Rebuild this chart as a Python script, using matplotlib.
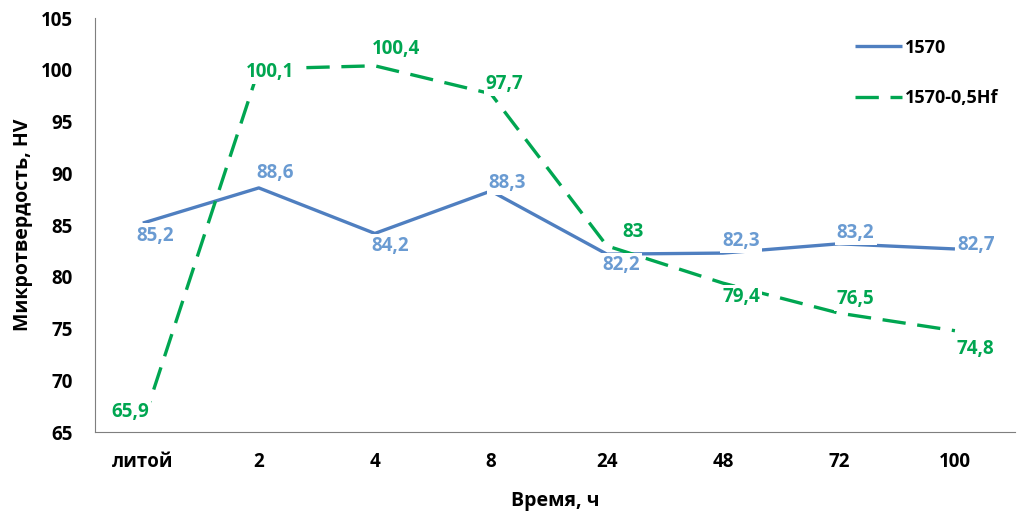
import matplotlib.pyplot as plt

plt.rcParams["font.family"] = ["Open Sans", "DejaVu Sans"]
plt.rcParams["font.weight"] = "bold"

categories = ["литой", "2", "4", "8", "24", "48", "72", "100"]
hv_1570 = [85.2, 88.6, 84.2, 88.3, 82.2, 82.3, 83.2, 82.7]
hv_1570_hf = [65.9, 100.1, 100.4, 97.7, 83.0, 79.4, 76.5, 74.8]
labels_1570 = ["85,2", "88,6", "84,2", "88,3", "82,2", "82,3", "83,2", "82,7"]
labels_1570_hf = ["65,9", "100,1", "100,4", "97,7", "83", "79,4", "76,5", "74,8"]
yticks = [65, 70, 75, 80, 85, 90, 95, 100, 105]

# label offsets in points (dx, dy)
off_blue = [(9, -9), (12, 11), (11, -9), (12, 6), (10, -8), (13, 9), (12, 8), (15, 3)]
off_green = [(-9, 8), (8, -2), (15, 12), (10, 7), (19, 10), (13, -10), (12, 10), (15, -13)]

blue_line = "#4f7fc0"
blue_text = "#6a9bd2"
green = "#00a651"

fig, ax = plt.subplots(figsize=(10.19, 5.2), dpi=100)
fig.subplots_adjust(left=0.093, right=0.996, bottom=0.169, top=0.965)

x = list(range(len(categories)))
ax.plot(x, hv_1570, color=blue_line, linewidth=2.4, label="1570", solid_capstyle="butt")
ax.plot(x, hv_1570_hf, color=green, linewidth=2.4, dashes=(7, 3.5), label="1570-0,5Hf")

bbox = dict(boxstyle="square,pad=0.12", facecolor="white", edgecolor="none")
for xi, yi, txt, off in zip(x, hv_1570, labels_1570, off_blue):
    ax.annotate(txt, (xi, yi), xytext=off, textcoords="offset points", ha="center", va="center",
                color=blue_text, fontsize=13.5, fontweight="bold", bbox=bbox)
for xi, yi, txt, off in zip(x, hv_1570_hf, labels_1570_hf, off_green):
    ax.annotate(txt, (xi, yi), xytext=off, textcoords="offset points", ha="center", va="center",
                color=green, fontsize=13.5, fontweight="bold", bbox=bbox)

ax.set_xlim(-0.414, 7.517)
ax.set_ylim(65, 105)
ax.set_xticks(x)
ax.set_xticklabels(categories)
ax.set_yticks(yticks)
ax.tick_params(axis="both", length=0, labelsize=13.5)
ax.tick_params(axis="x", pad=14)
ax.tick_params(axis="y", pad=16)
for lbl in ax.get_xticklabels() + ax.get_yticklabels():
    lbl.set_fontweight("bold")

ax.spines["top"].set_visible(False)
ax.spines["right"].set_visible(False)
ax.spines["left"].set_color("#7f7f7f")
ax.spines["bottom"].set_color("#7f7f7f")

ax.set_xlabel("Время, ч", fontsize=14, fontweight="bold", labelpad=14)
ax.set_ylabel("Микротвердость, HV", fontsize=14, fontweight="bold", labelpad=5)

leg = ax.legend(loc="upper right", bbox_to_anchor=(1.0, 0.99), frameon=False, fontsize=13,
                handlelength=2.6, labelspacing=1.8, handletextpad=0.2)
for t in leg.get_texts():
    t.set_fontweight("bold")

fig.savefig("out.png", dpi=100)
